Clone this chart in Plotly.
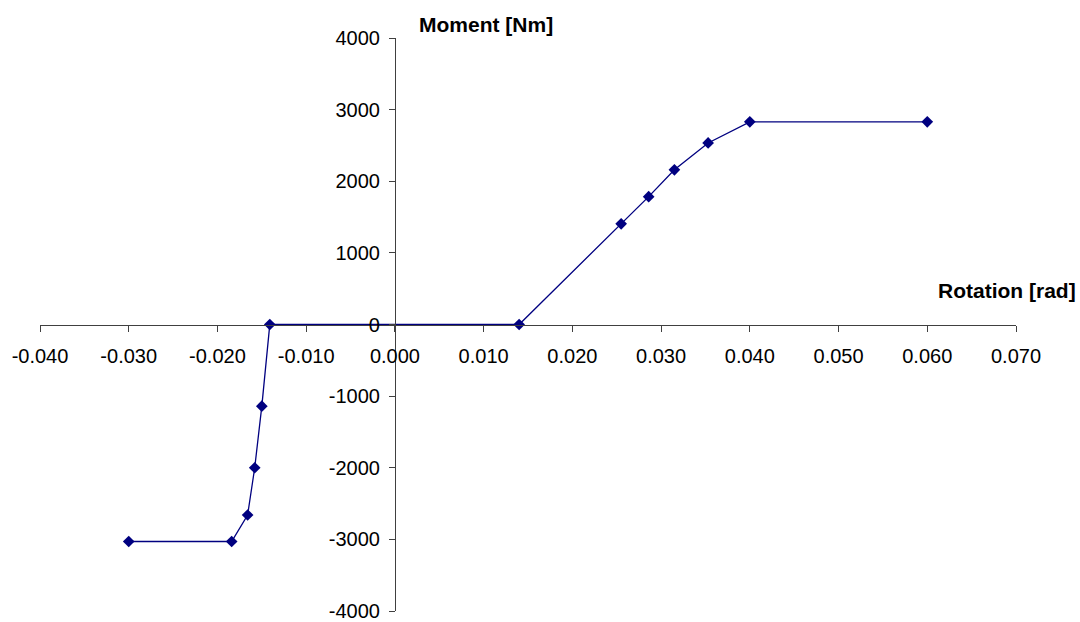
import plotly.graph_objects as go

rotation = [-0.0300, -0.0184, -0.0166, -0.0158, -0.0150, -0.0141,
            0.0140, 0.0255, 0.0286, 0.0315, 0.0353, 0.0400, 0.0600]
moment = [-3030, -3030, -2660, -2000, -1140, 0,
          0, 1405, 1785, 2160, 2535, 2830, 2830]

x_ticks = [-0.04, -0.03, -0.02, -0.01, 0.0, 0.01, 0.02, 0.03, 0.04, 0.05, 0.06, 0.07]
x_tick_labels = ["-0.040", "-0.030", "-0.020", "-0.010", "0.000", "0.010",
                 "0.020", "0.030", "0.040", "0.050", "0.060", "0.070"]
y_ticks = [-4000, -3000, -2000, -1000, 0, 1000, 2000, 3000, 4000]
y_tick_labels = ["-4000", "-3000", "-2000", "-1000", "0", "1000", "2000", "3000", "4000"]

navy = "#000080"
axis_col = "#404040"
font_family = "Liberation Sans, Arial, sans-serif"

fig = go.Figure()
fig.add_trace(go.Scatter(
    x=rotation, y=moment, mode="lines+markers",
    line=dict(color=navy, width=1.3),
    marker=dict(symbol="diamond", size=9, color=navy),
    showlegend=False,
))

xr = [-0.04, 0.07]
yr = [-4000, 4000]

top, bottom = 38, 11
plot_h = 622 - top - bottom

fig.update_layout(
    width=1080, height=622,
    margin=dict(l=40, r=64, t=top, b=bottom, autoexpand=False),
    paper_bgcolor="white", plot_bgcolor="white",
    font=dict(family=font_family, size=20, color="black"),
    xaxis=dict(
        range=xr, tickvals=x_ticks, ticktext=x_tick_labels,
        showgrid=False, zeroline=False, automargin=False,
        showline=True, linecolor=axis_col, linewidth=1,
        ticks="outside", ticklen=6, tickcolor=axis_col,
        ticklabelstandoff=7, ticklabeloverflow="allow",
        anchor="free", position=(0 - yr[0]) / (yr[1] - yr[0]),
        tickfont=dict(size=20),
    ),
    yaxis=dict(
        range=yr, tickvals=y_ticks, ticktext=y_tick_labels,
        showgrid=False, zeroline=False, automargin=False,
        showline=True, linecolor=axis_col, linewidth=1,
        ticks="outside", ticklen=6, tickcolor=axis_col,
        ticklabelstandoff=5, ticklabeloverflow="allow",
        anchor="free", position=(0 - xr[0]) / (xr[1] - xr[0]),
        tickfont=dict(size=20),
    ),
    annotations=[
        dict(text="<b>Moment [Nm]</b>", xref="paper", yref="paper",
             x=(485.5 - 40) / 976, y=1 + (top - 24) / plot_h,
             xanchor="center", yanchor="middle", showarrow=False,
             font=dict(size=21, family=font_family)),
        dict(text="<b>Rotation [rad]</b>", xref="paper", yref="paper",
             x=(1007 - 40) / 976, y=(622 - bottom - 290) / plot_h,
             xanchor="center", yanchor="middle", showarrow=False,
             font=dict(size=21, family=font_family)),
    ],
)

fig.write_html("out.html")
